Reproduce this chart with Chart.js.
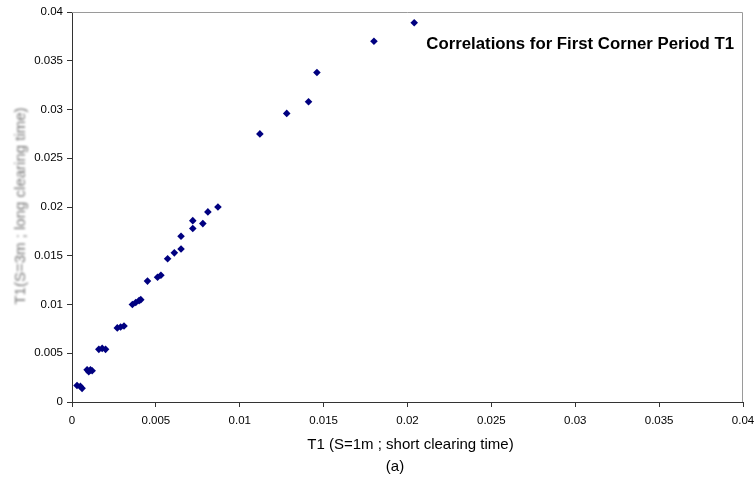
<!DOCTYPE html>
<html>
<head>
<meta charset="utf-8">
<title>Correlations for First Corner Period T1</title>
<script src="https://cdn.jsdelivr.net/npm/chart.js@4/dist/chart.umd.min.js"></script>
<style>
  html, body { margin: 0; padding: 0; background: #fff; }
  #wrap { width: 755px; height: 481px; position: relative; }
</style>
</head>
<body>
<div id="wrap"><canvas id="myChart"></canvas></div>
<script>
// T1 with S=1m (short clearing time)
const t1Short = [
  0.0003, 0.0005, 0.0006,
  0.0009, 0.0010, 0.0011, 0.0012,
  0.0016, 0.0018, 0.0020,
  0.0027, 0.0029, 0.0031,
  0.0036, 0.0038, 0.0040, 0.0041,
  0.0045, 0.0051, 0.0053,
  0.0057, 0.0061, 0.0065, 0.0065,
  0.0072, 0.0072, 0.0078, 0.0081, 0.0087,
  0.0112, 0.0128, 0.0141, 0.0146,
  0.0180, 0.0204
];
// T1 with S=3m (long clearing time)
const t1Long = [
  0.0017, 0.0016, 0.0014,
  0.0033, 0.0031, 0.0033, 0.0032,
  0.0054, 0.0055, 0.0054,
  0.0076, 0.0077, 0.0078,
  0.0100, 0.0102, 0.0104, 0.0105,
  0.0124, 0.0128, 0.0130,
  0.0147, 0.0153, 0.0157, 0.0170,
  0.0178, 0.0186, 0.0183, 0.0195, 0.0200,
  0.0275, 0.0296, 0.0308, 0.0338,
  0.0370, 0.0389
];
const xTickLabels = ["0", "0.005", "0.01", "0.015", "0.02", "0.025", "0.03", "0.035", "0.04"];
const yTickLabels = ["0", "0.005", "0.01", "0.015", "0.02", "0.025", "0.03", "0.035", "0.04"];

const chartTitle = "Correlations for First Corner Period T1";
const xTitle = "T1 (S=1m ; short clearing time)";
const yTitle = "T1(S=3m ; long clearing time)";
const subLabel = "(a)";

const points = t1Short.map((x, i) => ({ x: x, y: t1Long[i] }));
const FONT = "'Liberation Sans', Arial, sans-serif";

// frame, titles and caption drawn on top of the scales
const decorations = {
  id: "decorations",
  afterDraw(chart) {
    const { ctx, chartArea: a } = chart;
    ctx.save();
    // grey frame on top and right of plot area
    ctx.strokeStyle = "#9a9a9a";
    ctx.lineWidth = 1;
    ctx.beginPath();
    ctx.moveTo(a.left, a.top + 0.5);
    ctx.lineTo(a.right - 0.5, a.top + 0.5);
    ctx.lineTo(a.right - 0.5, a.bottom);
    ctx.stroke();

    ctx.fillStyle = "#000";
    ctx.font = "bold 16.8px " + FONT;
    ctx.textAlign = "right";
    ctx.textBaseline = "middle";
    ctx.fillText(chartTitle, 734, 44);

    const cx = (a.left + a.right) / 2;
    ctx.font = "15px " + FONT;
    ctx.textAlign = "center";
    ctx.fillText(xTitle, cx + 3, 445);
    ctx.fillText(subLabel, 395, 467);

    // y title is soft grey
    ctx.translate(21, 206);
    ctx.rotate(-Math.PI / 2);
    ctx.filter = "blur(0.8px)";
    ctx.fillStyle = "#777";
    ctx.font = "15px " + FONT;
    ctx.fillText(yTitle, 0, 0);
    ctx.restore();
  }
};

new Chart(document.getElementById("myChart"), {
  type: "scatter",
  data: {
    datasets: [{
      data: points,
      pointStyle: "rectRot",
      radius: 3.8,
      hoverRadius: 3.8,
      backgroundColor: "#000080",
      borderColor: "#000080",
      borderWidth: 0
    }]
  },
  options: {
    responsive: true,
    maintainAspectRatio: false,
    animation: false,
    layout: { padding: { top: 12, right: 12, left: 0, bottom: 0 } },
    plugins: { legend: { display: false }, tooltip: { enabled: false } },
    scales: {
      x: {
        type: "linear",
        min: 0, max: 0.04,
        afterFit: (s) => { s.height = 79; s.paddingLeft = 0; s.paddingRight = 0; },
        border: { color: "#333", width: 1 },
        grid: { drawOnChartArea: false, tickLength: 5, color: "#333" },
        ticks: {
          stepSize: 0.005,
          color: "#000",
          font: { family: FONT, size: 11.5 },
          padding: 7,
          maxRotation: 0,
          callback: (v, i) => xTickLabels[i]
        }
      },
      y: {
        type: "linear",
        min: 0, max: 0.04,
        afterFit: (s) => { s.width = 72; s.paddingTop = 0; s.paddingBottom = 0; },
        border: { color: "#333", width: 1 },
        grid: { drawOnChartArea: false, tickLength: 5, color: "#333" },
        ticks: {
          stepSize: 0.005,
          color: "#000",
          font: { family: FONT, size: 11.5 },
          padding: 4,
          callback: (v, i) => yTickLabels[i]
        }
      }
    }
  },
  plugins: [decorations]
});
</script>
</body>
</html>
